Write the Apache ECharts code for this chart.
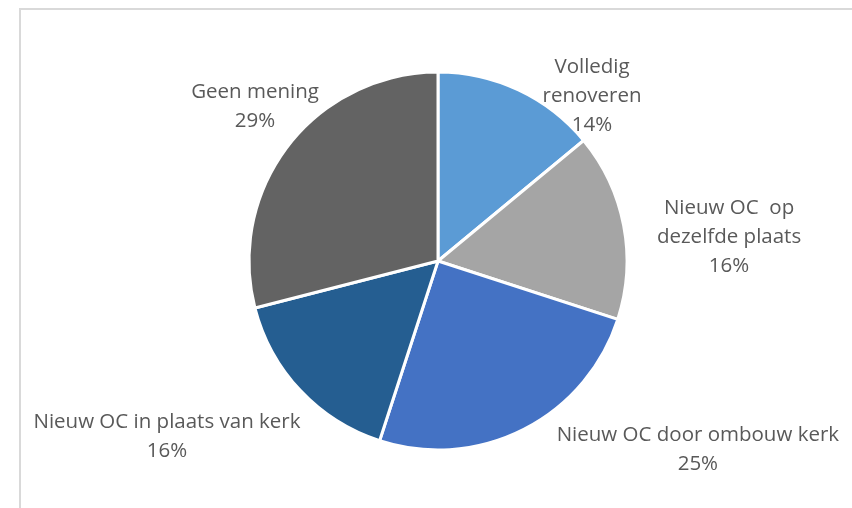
<!DOCTYPE html>
<html>
<head>
<meta charset="utf-8">
<script src="https://cdn.jsdelivr.net/npm/echarts@6/dist/echarts.min.js"></script>
<style>html,body{margin:0;padding:0;background:#fff}#c{width:852px;height:508px}</style>
</head>
<body>
<div id="c"></div>
<script>
var categories = ['Volledig\nrenoveren', 'Nieuw OC  op\ndezelfde plaats', 'Nieuw OC door ombouw kerk', 'Nieuw OC in plaats van kerk', 'Geen mening'];
var values = [14, 16, 25, 16, 29];
var colors = ['#5b9bd5', '#a5a5a5', '#4472c4', '#255e91', '#636363'];

// label placement (fractions of the radius from the pie centre) – style only
var labelSpots = [[0.815, -0.873], [1.54, -0.127], [1.375, 1.0], [-1.434, 0.931], [-0.968, -0.815]];
var CX = 438, CY = 261, R = 189;

var chart = echarts.init(document.getElementById('c'), null, {renderer: 'canvas'});
chart.setOption({
  animation: false,
  backgroundColor: '#ffffff',
  graphic: [{
    type: 'polyline',
    shape: {points: [[20, 520], [20, 9], [860, 9]]},
    style: {stroke: '#d9d9d9', lineWidth: 2, fill: null},
    silent: true
  }],
  series: [{
    type: 'pie',
    center: [CX, CY],
    radius: R,
    startAngle: 90,
    clockwise: true,
    data: categories.map(function (c, i) {
      return {name: c, value: values[i], itemStyle: {color: colors[i]}};
    }),
    itemStyle: {borderColor: '#ffffff', borderWidth: 3},
    label: {
      show: true,
      position: 'outside',
      formatter: '{b}\n{d}%',
      color: '#595959',
      fontFamily: 'Open Sans',
      fontSize: 20.5,
      lineHeight: 29,
      align: 'center',
      overflow: 'none',
      width: 400
    },
    labelLine: {show: false},
    labelLayout: function (p) {
      var s = labelSpots[p.dataIndex];
      return {x: CX + s[0] * R, y: CY + s[1] * R, align: 'center', verticalAlign: 'middle'};
    },
    emphasis: {disabled: true}
  }]
});
</script>
</body>
</html>
